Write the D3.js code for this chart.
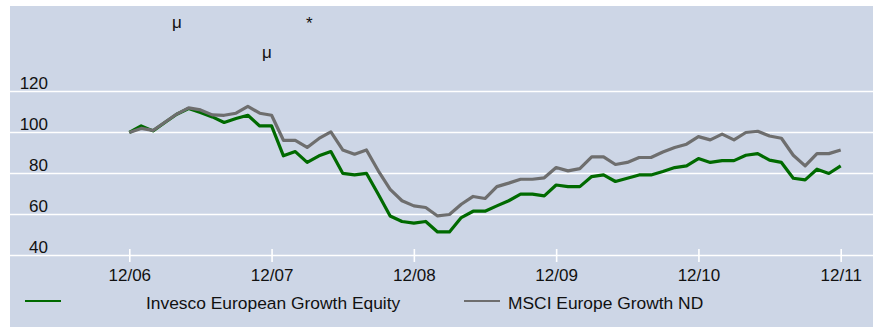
<!DOCTYPE html>
<html>
<head>
<meta charset="utf-8">
<script src="https://cdn.jsdelivr.net/npm/d3@7"></script>
<style>
  html, body { margin: 0; padding: 0; background: #ffffff; }
  svg { display: block; font-family: "Liberation Sans", Arial, sans-serif; }
</style>
</head>
<body>
<svg id="chart" width="881" height="327"></svg>
<script>
// Monthly index values, rebased to 100 at 12/06 (61 month-ends, 12/06 .. 12/11)
const invesco = [
  100, 103.2, 100.8, 104.9, 108.9, 111.7, 109.8, 107.6, 104.9, 106.8, 108.4, 103.2,
  103.2, 88.6, 90.7, 85.4, 88.6, 90.7, 80.1, 79.3, 80.1, 69.9, 59.3, 56.6,
  55.8, 56.6, 51.5, 51.5, 58.5, 61.6, 61.6, 64.2, 66.7, 69.9, 69.9, 69.1,
  74.4, 73.6, 73.6, 78.5, 79.3, 76.1, 77.7, 79.3, 79.3, 81.0, 82.9, 83.7,
  87.3, 85.4, 86.3, 86.3, 88.9, 89.7, 86.5, 85.4, 77.7, 76.9, 82.1, 80.0,
  83.7
];
const msci = [
  100, 102.0, 101.0, 105.0, 109.0, 112.0, 111.0, 108.6, 108.4, 109.4, 112.7, 109.4,
  108.4, 96.2, 96.2, 92.7, 97.1, 100.3, 91.5, 89.4, 91.5, 81.3, 72.3, 66.7,
  64.2, 63.4, 59.3, 60.0, 65.0, 68.8, 67.8, 73.6, 75.3, 77.2, 77.2, 77.9,
  82.9, 81.3, 82.4, 88.1, 88.1, 84.4, 85.4, 87.8, 87.8, 90.5, 92.7, 94.3,
  98.0, 96.4, 99.2, 96.4, 100.0, 100.6, 98.3, 97.2, 88.9, 83.7, 89.7, 89.7,
  91.5
];
const seriesNames = ["Invesco European Growth Equity", "MSCI Europe Growth ND"];
const xTickMonths = [0, 12, 24, 36, 48, 60];
const xTickLabels = ["12/06", "12/07", "12/08", "12/09", "12/10", "12/11"];
const yTicks = [40, 60, 80, 100, 120];

const svg = d3.select("#chart");
const colors = { fund: "#006a00", index: "#6e6e6e", bg: "#cdd6e6", grid: "#ffffff" };
const font = 17;

// panel background
svg.append("rect")
  .attr("x", 10).attr("y", 6).attr("width", 863).attr("height", 321)
  .attr("fill", colors.bg);

// stray glyphs in the header area
const marks = [["μ", 172, 28], ["*", 306, 29], ["μ", 262, 58]];
svg.selectAll("text.hdr").data(marks).enter().append("text")
  .attr("class", "hdr")
  .attr("x", d => d[1]).attr("y", d => d[2])
  .attr("font-size", font).attr("fill", "#111")
  .text(d => d[0]);

const x = d3.scaleLinear().domain([0, 60]).range([129.3, 840.7]);
const y = d3.scaleLinear().domain([40, 120]).range([255.5, 91.5]);

// horizontal gridlines and value labels
const yAxis = d3.axisLeft(y).tickValues(yTicks).tickSize(0).tickFormat(d3.format("d"));
const gy = svg.append("g").attr("transform", "translate(48,0)").call(yAxis);
gy.select(".domain").remove();
gy.selectAll("text")
  .attr("x", 0).attr("dy", null).attr("y", -3)
  .attr("font-size", font).attr("font-family", "Liberation Sans, Arial, sans-serif")
  .attr("fill", "#111").attr("text-anchor", "end");

svg.append("g").selectAll("line").data(yTicks).enter().append("line")
  .attr("x1", 10).attr("x2", 873)
  .attr("y1", d => y(d)).attr("y2", d => y(d))
  .attr("stroke", colors.grid).attr("stroke-width", 1.6);

// time axis: white tick marks across the baseline, labels underneath
const xAxis = d3.axisBottom(x).tickValues(xTickMonths).tickSize(0)
  .tickFormat((d, i) => xTickLabels[i]);
const gx = svg.append("g").attr("transform", `translate(0,${y(40)})`).call(xAxis);
gx.select(".domain").remove();
gx.selectAll("text")
  .attr("dy", null).attr("y", 25.5)
  .attr("font-size", font).attr("font-family", "Liberation Sans, Arial, sans-serif")
  .attr("fill", "#111");
gx.selectAll(".tick").append("line")
  .attr("y1", -6.5).attr("y2", 6.5)
  .attr("stroke", colors.grid).attr("stroke-width", 1.6);

// performance lines
const line = d3.line().x((d, i) => x(i)).y(d => y(d)).curve(d3.curveLinear);
svg.append("path").datum(invesco)
  .attr("d", line).attr("fill", "none")
  .attr("stroke", colors.fund).attr("stroke-width", 3.2).attr("stroke-linejoin", "round");
svg.append("path").datum(msci)
  .attr("d", line).attr("fill", "none")
  .attr("stroke", colors.index).attr("stroke-width", 3.2).attr("stroke-linejoin", "round");

// legend
const legend = [
  { name: seriesNames[0], color: colors.fund, x1: 25, x2: 61, tx: 146 },
  { name: seriesNames[1], color: colors.index, x1: 464, x2: 500, tx: 508 }
];
const lg = svg.append("g").selectAll("g").data(legend).enter().append("g");
lg.append("line")
  .attr("x1", d => d.x1).attr("x2", d => d.x2).attr("y1", 301).attr("y2", 301)
  .attr("stroke", d => d.color).attr("stroke-width", 2.2);
lg.append("text")
  .attr("x", d => d.tx).attr("y", 308.5)
  .attr("font-size", 17.4).attr("fill", "#111")
  .text(d => d.name);
</script>
</body>
</html>
